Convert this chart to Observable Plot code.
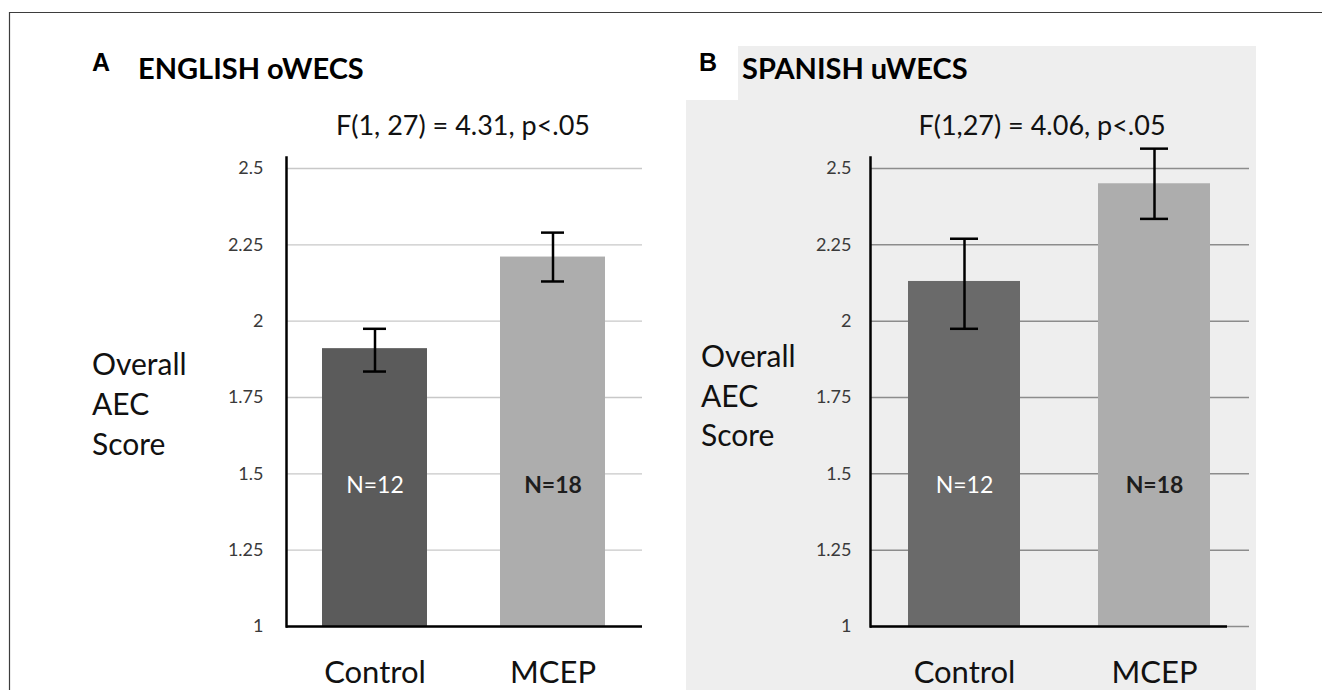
<!DOCTYPE html>
<html><head><meta charset="utf-8">
<script src="https://cdn.jsdelivr.net/npm/d3@7"></script>
<script src="https://cdn.jsdelivr.net/npm/@observablehq/plot@0.6"></script>
<style>
html,body{margin:0;padding:0;background:#fff;}
#wrap{position:relative;width:1322px;height:690px;overflow:hidden;font-family:Lato,sans-serif;background:#fff;}
.abs{position:absolute;}
.grey{position:absolute;background:#eeeeee;}
</style></head><body><div id="wrap"></div>
<script>
// ---- data ----
const groups = ["Control", "MCEP"];
const englishMean = [1.91, 2.21];
const englishLow = [1.835, 2.13];
const englishHigh = [1.975, 2.29];
const englishN = ["N=12", "N=18"];
const spanishMean = [2.13, 2.45];
const spanishLow = [1.975, 2.335];
const spanishHigh = [2.27, 2.565];
const spanishN = ["N=12", "N=18"];
const yTicks = [1, 1.25, 1.5, 1.75, 2, 2.25, 2.5];
const yTickLabels = ["1", "1.25", "1.5", "1.75", "2", "2.25", "2.5"];
const titleA = "ENGLISH oWECS";
const titleB = "SPANISH uWECS";
const statA = "F(1, 27) = 4.31,  p<.05";
const statB = "F(1,27) = 4.06, p<.05";
const yLabelLines = ["Overall", "AEC", "Score"];

const wrap = document.getElementById("wrap");

// grey background of panel B
function box(l, t, w, h, cls) {
  const d = document.createElement("div");
  d.className = cls;
  Object.assign(d.style, {left: l + "px", top: t + "px", width: w + "px", height: h + "px"});
  wrap.appendChild(d);
}
box(686, 100, 570, 590, "grey");
box(738, 46, 518, 54, "grey");

function panel(o) {
  const rows = groups.map((g, i) => ({
    group: g, mean: o.mean[i], low: o.low[i], high: o.high[i], n: o.n[i],
    fill: o.fills[i], lab: o.labFills[i]
  }));
  const chart = Plot.plot({
    width: o.width, height: 690,
    marginLeft: o.marginLeft, marginRight: o.marginRight, marginTop: 168, marginBottom: 64,
    style: {background: "transparent", fontFamily: "Lato, sans-serif", overflow: "visible"},
    x: {domain: groups, paddingInner: 0.41, paddingOuter: 0.2, label: null},
    y: {domain: [yTicks[0], yTicks[yTicks.length - 1]], label: null},
    color: {type: "identity"},
    marks: [
      Plot.ruleY(yTicks, {stroke: o.grid, strokeWidth: o.gridWidth}),
      Plot.barY(rows, {x: "group", y1: () => yTicks[0], y2: "mean", fill: "fill"}),
      Plot.ruleY([yTicks[0]], {stroke: "#000", strokeWidth: 2.5, insetRight: o.axisInsetRight}),
      Plot.frame({anchor: "left", insetTop: -11, stroke: "#000", strokeWidth: 2.5}),
      Plot.ruleX(rows, {x: "group", y1: "low", y2: "high", stroke: "#000", strokeWidth: 2.5}),
      Plot.tickY(rows, {x: "group", y: "high", inset: o.capInset, stroke: "#000", strokeWidth: 2.5}),
      Plot.tickY(rows, {x: "group", y: "low", inset: o.capInset, stroke: "#000", strokeWidth: 2.5}),
      Plot.text(rows, {filter: d => d.group === groups[0], x: "group", text: "n", fill: "lab",
        frameAnchor: "bottom", dy: -134, fontSize: 23}),
      Plot.text(rows, {filter: d => d.group === groups[1], x: "group", text: "n", fill: "lab",
        frameAnchor: "bottom", dy: -134, fontSize: 23, fontWeight: "bold"}),
      Plot.axisY({ticks: yTicks, tickFormat: d => yTickLabels[yTicks.indexOf(d)], tickSize: 0,
        tickPadding: o.tickPad, fontSize: 18, fill: "#3a3a3a", label: null}),
      Plot.axisX({tickSize: 0, tickPadding: 34, fontSize: 31, fill: "#111", label: null})
    ]
  });
  chart.classList.add("abs");
  chart.style.left = o.left + "px";
  chart.style.top = "0px";
  wrap.appendChild(chart);
}

panel({mean: englishMean, low: englishLow, high: englishHigh, n: englishN,
  fills: ["#5b5b5b", "#adadad"], labFills: ["#ffffff", "#1e1e1e"],
  grid: "#c8c8c8", gridWidth: 1.4, left: 0, width: 680, marginLeft: 286, marginRight: 38,
  tickPad: 23, capInset: 41, axisInsetRight: 0});

panel({mean: spanishMean, low: spanishLow, high: spanishHigh, n: spanishN,
  fills: ["#6a6a6a", "#adadad"], labFills: ["#ffffff", "#1e1e1e"],
  grid: "#8c8c8c", gridWidth: 1.5, left: 680, width: 642, marginLeft: 190, marginRight: 73,
  tickPad: 19, capInset: 42, axisInsetRight: 22});

// overlay: frame lines and text
const ns = "http://www.w3.org/2000/svg";
const ov = document.createElementNS(ns, "svg");
ov.setAttribute("width", 1322); ov.setAttribute("height", 690);
ov.setAttribute("class", "abs");
ov.style.left = "0px"; ov.style.top = "0px"; ov.style.pointerEvents = "none";
wrap.appendChild(ov);
function el(tag, attrs, text) {
  const e = document.createElementNS(ns, tag);
  for (const k in attrs) e.setAttribute(k, attrs[k]);
  if (text != null) e.textContent = text;
  ov.appendChild(e);
  return e;
}
el("line", {x1: 9, y1: 12.5, x2: 1322, y2: 12.5, stroke: "#3d3d3d", "stroke-width": 1.2});
el("line", {x1: 9.5, y1: 12, x2: 9.5, y2: 690, stroke: "#3d3d3d", "stroke-width": 1.2});
const bold = {"font-family": "'Liberation Sans', Arial, sans-serif", "font-weight": "bold", "font-size": 25, fill: "#000"};
el("text", {x: 92, y: 71, ...bold}, "A");
el("text", {x: 699, y: 71, ...bold}, "B");
const ttl = {"font-family": "Lato, sans-serif", "font-weight": "bold", "font-size": 29, fill: "#000"};
el("text", {x: 138, y: 79, ...ttl}, titleA);
el("text", {x: 742, y: 79, ...ttl}, titleB);
const st = {"font-family": "Lato, sans-serif", "font-size": 27, fill: "#111", "text-anchor": "middle", "xml:space": "preserve"};
el("text", {x: 463, y: 135, ...st}, statA);
el("text", {x: 1042, y: 135, ...st}, statB);
const yl = {"font-family": "Lato, sans-serif", "font-size": 30, fill: "#111"};
[375, 415, 455].forEach((b, i) => el("text", {x: 92, y: b, ...yl}, yLabelLines[i]));
[367, 407, 446].forEach((b, i) => el("text", {x: 701, y: b, ...yl}, yLabelLines[i]));
</script>
</body></html>
